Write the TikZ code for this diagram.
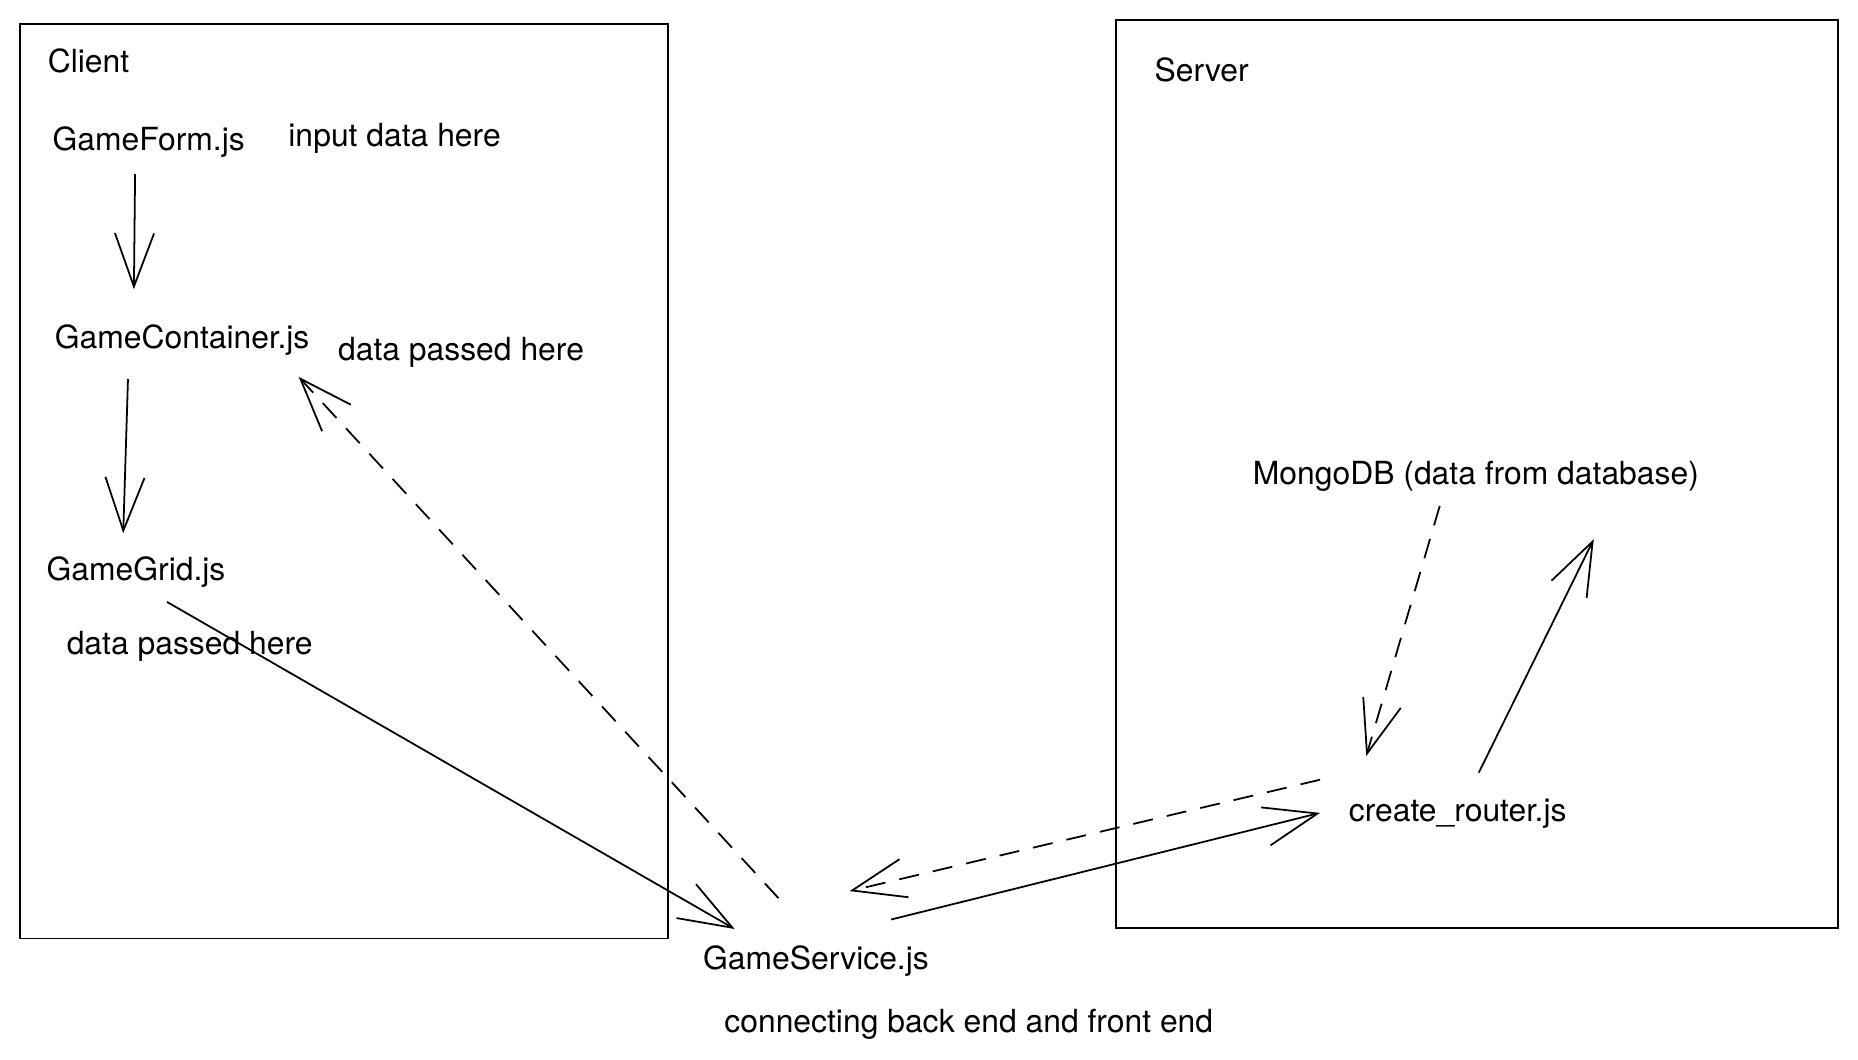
\documentclass[tikz,border=0pt]{standalone}
\usepackage{fontspec}
\setmainfont{TeX Gyre Heros}
\usetikzlibrary{arrows.meta}

\tikzset{
  lbl/.style={anchor=base west, inner sep=0pt, font=\fontsize{15.3}{18}\selectfont},
  flow/.style={line width=0.85pt, -{Straight Barb[length=0.9cm, width=0.66cm]}},
  back/.style={flow, dash pattern=on 0.34cm off 0.24cm},
}

\begin{document}
\begin{tikzpicture}[x=0.02cm, y=-0.02cm]
    \useasboundingbox (0,0) rectangle (1568,894.5);
    % the two sides
    \draw[line width=0.85pt] (17,20) rectangle (564,792);
    \draw[line width=0.85pt] (942,17) rectangle (1551,783);

    % client side
    \node[lbl] (client) at (40,61) {Client};
    \node[lbl] (gameform) at (44,127) {GameForm.js};
    \node[lbl] (input) at (243,124) {input data here};
    \node[lbl] (container) at (46,294) {GameContainer.js};
    \node[lbl] (passed1) at (285,304) {data passed here};
    \node[lbl] (grid) at (39,490) {GameGrid.js};
    \node[lbl] (passed2) at (56,552) {data passed here};

    % middle
    \node[lbl] (service) at (593,818) {GameService.js};
    \node[lbl] (connecting) at (611,871) {connecting back end and front end};

    % server side
    \node[lbl] (server) at (974,69) {Server};
    \node[lbl] (mongo) at (1057,409) {MongoDB (data from database)};
    \node[lbl] (router) at (1138,693) {create\_router.js};

    % connectors
    \draw[flow] ([shift={(70,20)}]gameform.base west) -- ([shift={(67,-50)}]container.base west);
    \draw[flow] ([shift={(62,26)}]container.base west) -- ([shift={(65,-40)}]grid.base west);
    \draw[flow] ([shift={(102,18)}]grid.base west) -- ([shift={(27,-34)}]service.base west);
    \draw[back] ([shift={(64,-60)}]service.base west) -- ([shift={(206,24)}]container.base west);
    \draw[back] ([shift={(-24,-35)}]router.base west) -- ([shift={(124,-66)}]service.base west);
    \draw[flow] ([shift={(159,-42)}]service.base west) -- ([shift={(-24,-7)}]router.base west);
    \draw[back] ([shift={(158,18)}]mongo.base west) -- ([shift={(15,-55)}]router.base west);
    \draw[flow] ([shift={(110,-41)}]router.base west) -- ([shift={(288,46)}]mongo.base west);
\end{tikzpicture}
\end{document}
